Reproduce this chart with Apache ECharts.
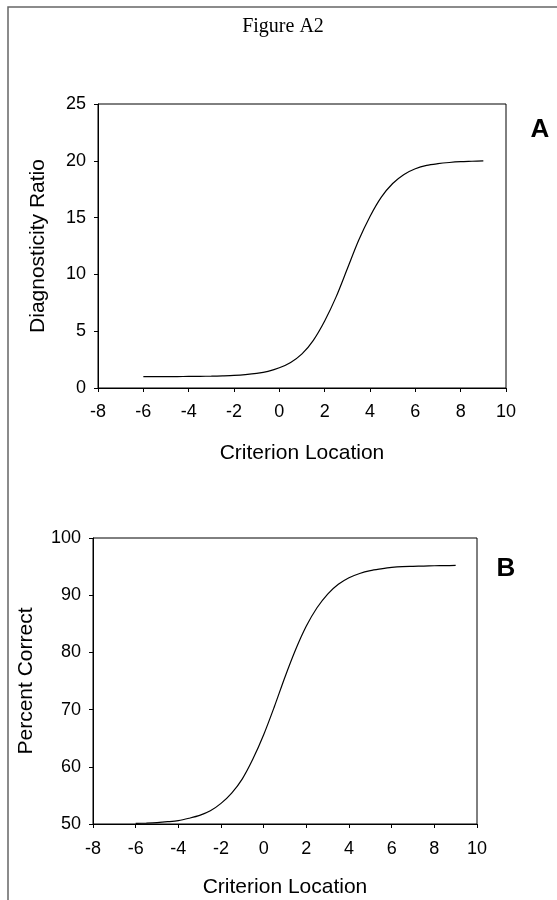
<!DOCTYPE html>
<html>
<head>
<meta charset="utf-8">
<title>Figure A2</title>
<script src="https://cdn.jsdelivr.net/npm/echarts@6/dist/echarts.min.js"></script>
<style>
  html, body { margin: 0; padding: 0; background: #fff; }
  #chart { width: 557px; height: 900px; }
</style>
</head>
<body>
<div id="chart"></div>
<script>
// criterion location (shared by both panels)
var criterion = [-6, -5.5, -5, -4.5, -4, -3.5, -3, -2.5, -2, -1.5, -1, -0.5, 0, 0.5, 1, 1.5,
  2, 2.5, 3, 3.5, 4, 4.5, 5, 5.5, 6, 6.5, 7, 7.5, 8, 8.5, 9];
// panel A - diagnosticity ratio
var diagRatio = [1.00, 1.00, 1.01, 1.01, 1.02, 1.03, 1.04, 1.07, 1.11, 1.18, 1.29, 1.47, 1.78, 2.25, 3.0, 4.2,
  5.9, 8.0, 10.5, 13.0, 15.1, 16.8, 18.0, 18.8, 19.3, 19.6, 19.75, 19.85, 19.92, 19.96, 20.0];
// panel B - percent correct
var pctCorrect = [50.1, 50.16, 50.25, 50.4, 50.6, 51.0, 51.5, 52.3, 53.6, 55.4, 57.9, 61.4, 65.6, 70.5, 75.7, 80.5,
  84.6, 87.8, 90.2, 91.9, 93.05, 93.8, 94.3, 94.6, 94.85, 95.0, 95.05, 95.1, 95.15, 95.17, 95.2];
// tick labels / axis ranges
var xTicks = { min: -8, max: 10, step: 2 };
var yTicksA = { min: 0, max: 25, step: 5 };
var yTicksB = { min: 50, max: 100, step: 10 };

var sans = 'Liberation Sans, Arial, sans-serif';

function pairs (xs, ys) {
  return xs.map(function (x, i) { return [x, ys[i]]; });
}

// 公共坐标轴样式
function axisBase (t, labelMargin) {
  return {
    type: 'value',
    min: t.min,
    max: t.max,
    interval: t.step,
    axisLine: { show: true, onZero: false, lineStyle: { color: '#000', width: 1 } },
    axisTick: { show: true, inside: false, length: 4, lineStyle: { color: '#000' } },
    axisLabel: { color: '#000', fontFamily: sans, fontSize: 18, margin: labelMargin },
    splitLine: { show: false },
    nameLocation: 'middle',
    nameTextStyle: { color: '#000', fontFamily: sans, fontSize: 21 },
  };
}

var xA = axisBase(xTicks, 15);
xA.gridIndex = 0; xA.name = 'Criterion Location'; xA.nameGap = 55;
var xB = axisBase(xTicks, 16);
xB.gridIndex = 1; xB.name = 'Criterion Location'; xB.nameGap = 53;
var yA = axisBase(yTicksA, 12);
yA.gridIndex = 0; yA.name = 'Diagnosticity Ratio'; yA.nameGap = 49;
var yB = axisBase(yTicksB, 12);
yB.gridIndex = 1; yB.name = 'Percent Correct'; yB.nameGap = 56;

var lineStyle = { color: '#000', width: 1.2 };

var option = {
  animation: false,
  backgroundColor: '#fff',
  grid: [
    { left: 98, top: 104, width: 408, height: 284, show: true, borderColor: '#000', borderWidth: 1 },
    { left: 93, top: 538, width: 384, height: 286, show: true, borderColor: '#000', borderWidth: 1 },
  ],
  xAxis: [xA, xB],
  yAxis: [yA, yB],
  series: [
    { type: 'line', xAxisIndex: 0, yAxisIndex: 0, data: pairs(criterion, diagRatio),
      smooth: 0.3, showSymbol: false, lineStyle: lineStyle },
    { type: 'line', xAxisIndex: 1, yAxisIndex: 1, data: pairs(criterion, pctCorrect),
      smooth: 0.3, showSymbol: false, lineStyle: lineStyle },
  ],
  graphic: [
    // outer frame (only left + top visible)
    { type: 'polyline', shape: { points: [[8, 900], [8, 7], [557, 7]] },
      style: { stroke: '#666', lineWidth: 1.5, fill: null } },
    { type: 'text', x: 283, y: 27,
      style: { text: 'Figure A2', font: '20px "Liberation Serif", "Times New Roman", serif',
        fill: '#000', align: 'center', verticalAlign: 'middle' } },
    { type: 'text', x: 540, y: 130,
      style: { text: 'A', font: 'bold 26px "Liberation Sans", Arial, sans-serif',
        fill: '#000', align: 'center', verticalAlign: 'middle' } },
    { type: 'text', x: 506, y: 569,
      style: { text: 'B', font: 'bold 26px "Liberation Sans", Arial, sans-serif',
        fill: '#000', align: 'center', verticalAlign: 'middle' } },
  ],
};

var chart = echarts.init(document.getElementById('chart'));
chart.setOption(option);
</script>
</body>
</html>
